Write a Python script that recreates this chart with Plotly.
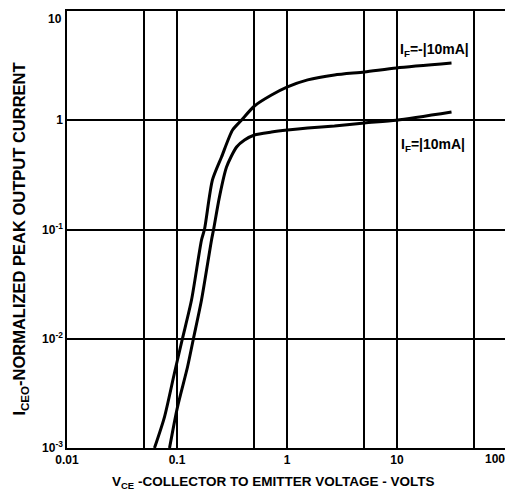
import plotly.graph_objects as go

# Curve IF = -|10mA| (upper)
vce_neg = [0.0624, 0.0769, 0.0948, 0.112, 0.1355, 0.167, 0.178, 0.210, 0.254, 0.320, 0.385, 0.506, 0.723, 1.01, 1.54, 2.70, 5.06, 9.89, 31.3]
ic_neg = [0.001, 0.00192, 0.00486, 0.010, 0.0226, 0.0802, 0.101, 0.284, 0.461, 0.814, 1.0, 1.35, 1.70, 2.02, 2.34, 2.60, 2.77, 3.01, 3.34]

# Curve IF = |10mA| (lower)
vce_pos = [0.0855, 0.101, 0.1246, 0.141, 0.167, 0.206, 0.215, 0.243, 0.282, 0.348, 0.411, 0.506, 0.723, 1.01, 1.54, 2.70, 5.06, 9.89, 31.3]
ic_pos = [0.001, 0.00237, 0.00551, 0.010, 0.0226, 0.0802, 0.100, 0.198, 0.373, 0.569, 0.659, 0.733, 0.780, 0.814, 0.849, 0.886, 0.944, 1.0, 1.19]

x_grid = [0.01, 0.05, 0.1, 0.5, 1, 5, 10, 50, 100]
x_text = ["0.01", "", "0.1", "", "1", "", "10", "", ""]
x_last_label = "100"
y_grid = [0.001, 0.01, 0.1, 1, 10]
y_text = ["10<sup>-3</sup>", "10<sup>-2</sup>", "10<sup>-1</sup>", "1", ""]
y_top_label = "10"

FONT = "Liberation Sans"

fig = go.Figure()
for xs, ys in ((vce_neg, ic_neg), (vce_pos, ic_pos)):
    fig.add_trace(go.Scatter(x=xs, y=ys, mode="lines",
                             line=dict(color="black", width=3, shape="spline", smoothing=0.7),
                             showlegend=False, hoverinfo="skip"))

fig.update_layout(
    width=505, height=489,
    margin=dict(l=59, r=6, t=3, b=49, autoexpand=False),
    paper_bgcolor="white", plot_bgcolor="white",
    font=dict(family=FONT, size=12, color="black"),
    xaxis=dict(type="log", range=[-2, 2], tickvals=x_grid, ticktext=x_text,
               showgrid=True, gridcolor="black", gridwidth=1.5,
               showline=True, linecolor="black", linewidth=1.5, mirror=True,
               ticks="", zeroline=False, ticklabeloverflow="allow",
               tickfont=dict(family=FONT, size=12, weight="bold")),
    yaxis=dict(type="log", range=[-3, 1], tickvals=y_grid, ticktext=y_text,
               showgrid=True, gridcolor="black", gridwidth=1.5,
               showline=True, linecolor="black", linewidth=1.5, mirror=True,
               ticks="", zeroline=False, ticklabeloverflow="allow",
               tickfont=dict(family=FONT, size=12, weight="bold")),
    annotations=[
        dict(text=x_last_label, x=1.0, y=0, xref="paper", yref="paper",
             xanchor="right", yanchor="top", yshift=-2, showarrow=False,
             font=dict(family=FONT, size=12, weight="bold")),
        dict(text=y_top_label, x=0, y=1, xref="paper", yref="paper",
             xanchor="right", yanchor="top", xshift=-3, yshift=1, showarrow=False,
             font=dict(family=FONT, size=12, weight="bold")),
        dict(text="I<sub>F</sub>=-|10mA|", x=1.341, y=0.643, xref="x", yref="y",
             showarrow=False, font=dict(family=FONT, size=14, weight="bold")),
        dict(text="I<sub>F</sub>=|10mA|", x=1.323, y=-0.2265, xref="x", yref="y",
             showarrow=False, font=dict(family=FONT, size=14, weight="bold")),
        dict(text="V<sub>CE</sub> -COLLECTOR TO EMITTER VOLTAGE - VOLTS",
             x=0.468, y=-0.08, xref="paper", yref="paper", showarrow=False,
             xanchor="center", yanchor="middle",
             font=dict(family=FONT, size=13.5, weight="bold")),
        dict(text="I<sub>CEO</sub>-NORMALIZED PEAK OUTPUT CURRENT",
             x=-0.133, y=0.478, xref="paper", yref="paper", showarrow=False,
             xanchor="left", yanchor="middle",
             textangle=-90, font=dict(family=FONT, size=16.5, weight="bold")),
    ],
)

fig.write_html("out.html")
